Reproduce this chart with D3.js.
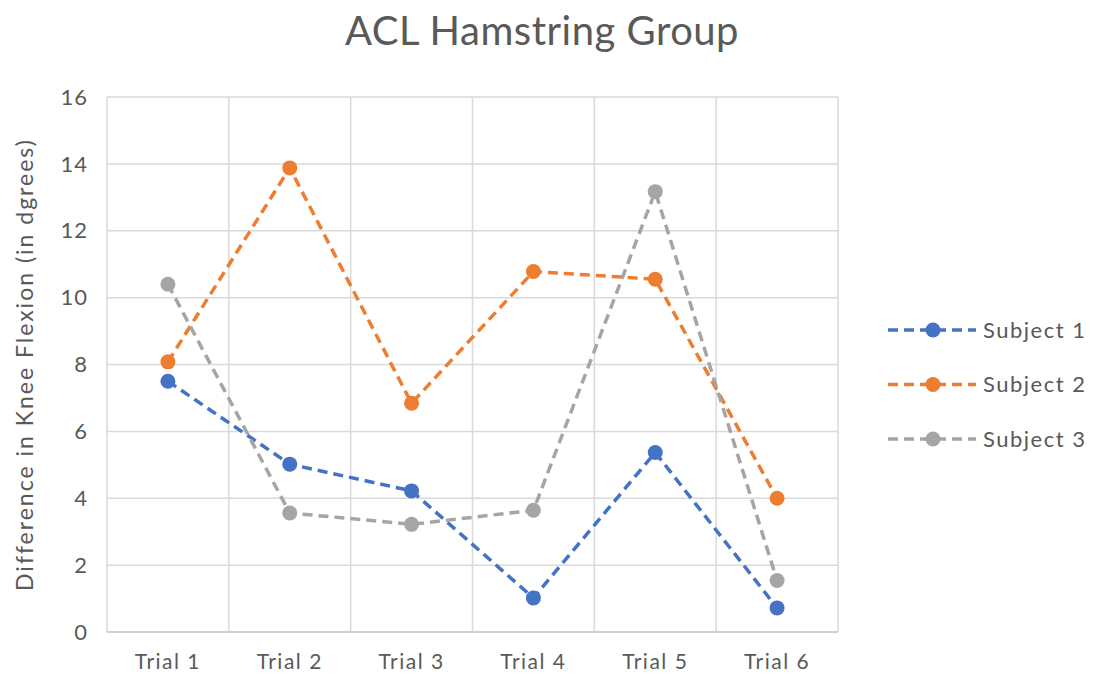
<!DOCTYPE html>
<html>
<head>
<meta charset="utf-8">
<script src="https://cdn.jsdelivr.net/npm/d3@7"></script>
<style>
  body { margin: 0; background: #fff; }
  text { font-family: Lato, "Noto Sans", sans-serif; fill: #595959; }
</style>
</head>
<body>
<div id="chart-area"></div>
<script>
var width = 1097,
	height = 682;

// data
var trials = ["Trial 1", "Trial 2", "Trial 3", "Trial 4", "Trial 5", "Trial 6"];
var subjectNames = ["Subject 1", "Subject 2", "Subject 3"];
var subject1 = [7.5, 5.02, 4.22, 1.02, 5.37, 0.72];
var subject2 = [8.08, 13.88, 6.84, 10.78, 10.55, 4.0];
var subject3 = [10.4, 3.56, 3.22, 3.64, 13.17, 1.54];
var yTicks = [0, 2, 4, 6, 8, 10, 12, 14, 16];
var colors = ["#4472C4", "#ED7D31", "#A5A5A5"];

var series = [subject1, subject2, subject3].map(function(vals, i) {
	return { name: subjectNames[i], color: colors[i], values: vals };
});

var margin = { left: 107, right: 259, top: 97, bottom: 50 };

var svg = d3.select("#chart-area")
	.append("svg")
	.attr("width", width)
	.attr("height", height);

var xScale = d3.scaleBand()
	.domain(trials)
	.range([margin.left, width - margin.right])
	.padding(0);

var yScale = d3.scaleLinear()
	.domain([0, 16])
	.range([height - margin.bottom, margin.top]);

// horizontal gridlines
svg.append("g")
	.selectAll("line")
	.data(yTicks.slice(1))
	.enter()
	.append("line")
	.attr("x1", margin.left)
	.attr("x2", width - margin.right)
	.attr("y1", function(d){ return yScale(d); })
	.attr("y2", function(d){ return yScale(d); })
	.attr("stroke", "#d9d9d9")
	.attr("stroke-width", 1.5);

// vertical gridlines at category edges
var edges = trials.map(function(t){ return xScale(t); }).concat([width - margin.right]);
svg.append("g")
	.selectAll("line")
	.data(edges)
	.enter()
	.append("line")
	.attr("x1", function(d){ return d; })
	.attr("x2", function(d){ return d; })
	.attr("y1", yScale(16))
	.attr("y2", yScale(0))
	.attr("stroke", "#d9d9d9")
	.attr("stroke-width", 1.5);

// bottom axis line
svg.append("line")
	.attr("x1", margin.left)
	.attr("x2", width - margin.right)
	.attr("y1", yScale(0))
	.attr("y2", yScale(0))
	.attr("stroke", "#d0d0d0")
	.attr("stroke-width", 2);

// y tick labels
svg.append("g")
	.selectAll("text")
	.data(yTicks)
	.enter()
	.append("text")
	.attr("x", 88)
	.attr("y", function(d){ return yScale(d); })
	.attr("dy", "0.35em")
	.attr("text-anchor", "end")
	.style("font-size", "22px")
	.style("letter-spacing", "1px")
	.text(function(d){ return d; });

// x tick labels
svg.append("g")
	.selectAll("text")
	.data(trials)
	.enter()
	.append("text")
	.attr("x", function(d){ return xScale(d) + xScale.bandwidth() / 2; })
	.attr("y", 669)
	.attr("text-anchor", "middle")
	.style("font-size", "21px")
	.style("letter-spacing", "1.5px")
	.text(function(d){ return d; });

// title
svg.append("text")
	.attr("x", 542)
	.attr("y", 45)
	.attr("text-anchor", "middle")
	.style("font-size", "40px")
	.style("letter-spacing", "0.5px")
	.text("ACL Hamstring Group");

// y axis label
svg.append("text")
	.attr("transform", "translate(33," + (yScale(0) + yScale(16)) / 2 + ") rotate(-90)")
	.attr("text-anchor", "middle")
	.style("font-size", "23px")
	.style("letter-spacing", "2px")
	.text("Difference in Knee Flexion (in dgrees)");

var line = d3.line()
	.x(function(d, i){ return xScale(trials[i]) + xScale.bandwidth() / 2; })
	.y(function(d){ return yScale(d); });

var groups = svg.selectAll(".series")
	.data(series)
	.enter()
	.append("g")
	.attr("class", "series");

groups.append("path")
	.attr("d", function(d){ return line(d.values); })
	.attr("fill", "none")
	.attr("stroke", function(d){ return d.color; })
	.attr("stroke-width", 3.5)
	.attr("stroke-dasharray", "10,6");

groups.selectAll("circle")
	.data(function(d){ return d.values.map(function(v){ return { v: v, color: d.color }; }); })
	.enter()
	.append("circle")
	.attr("cx", function(d, i){ return xScale(trials[i]) + xScale.bandwidth() / 2; })
	.attr("cy", function(d){ return yScale(d.v); })
	.attr("r", 7.5)
	.attr("fill", function(d){ return d.color; });

// legend
var legend = svg.selectAll(".legend")
	.data(series)
	.enter()
	.append("g")
	.attr("class", "legend")
	.attr("transform", function(d, i){ return "translate(888," + (330 + i * 54.5) + ")"; });

legend.append("line")
	.attr("x1", 0)
	.attr("x2", 88)
	.attr("y1", 0)
	.attr("y2", 0)
	.attr("stroke", function(d){ return d.color; })
	.attr("stroke-width", 3.5)
	.attr("stroke-dasharray", "10,6");

legend.append("circle")
	.attr("cx", 45)
	.attr("cy", 0)
	.attr("r", 7.5)
	.attr("fill", function(d){ return d.color; });

legend.append("text")
	.attr("x", 95)
	.attr("y", 0)
	.attr("dy", "0.35em")
	.style("font-size", "22px")
	.style("letter-spacing", "1.5px")
	.text(function(d){ return d.name; });
</script>
</body>
</html>
